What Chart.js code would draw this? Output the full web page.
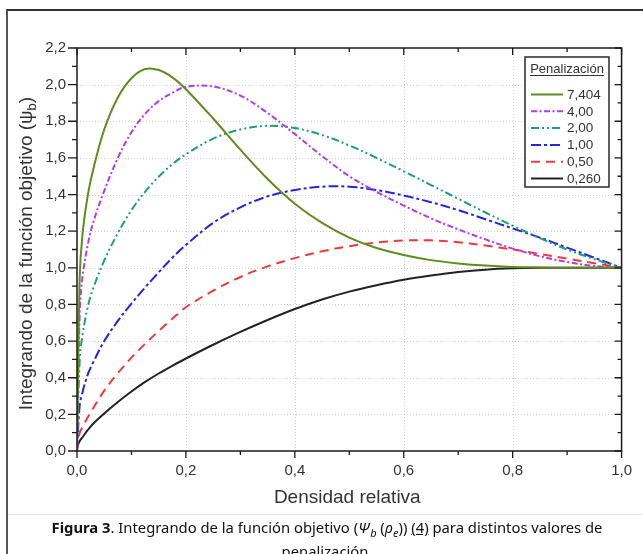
<!DOCTYPE html>
<html><head><meta charset="utf-8">
<script src="https://cdn.jsdelivr.net/npm/chart.js@4"></script>
<style>
html,body{margin:0;padding:0;background:#fff;}
#wrap{position:relative;width:643px;height:554px;overflow:hidden;background:#fff;}
#frame{position:absolute;left:6px;top:9px;width:720px;height:620px;border-left:2px solid #555;border-top:2px solid #333;box-sizing:border-box;}
#sep{position:absolute;left:8px;top:514px;width:640px;height:1px;background:#e6e6e6;}
canvas{position:absolute;left:0;top:0;}
#cap{position:absolute;left:6px;width:642px;top:518px;text-align:center;font-family:"Noto Sans";font-size:14.8px;line-height:18px;color:#111;white-space:nowrap;}
#cap .u{text-decoration:underline;}
</style></head>
<body>
<div id="wrap">
<div id="frame"></div>
<div id="sep"></div>
<canvas id="c" width="643" height="554"></canvas>
<div id="cap"><b>Figura 3</b>. Integrando de la función objetivo (<i>Ψ<sub style="font-size:11px">b</sub></i> (<i>ρ<sub style="font-size:11px">e</sub></i>)) <span class="u">(4)</span> para distintos valores de<br>penalización.</div>
</div>
<script>
// ---- data ----
const densidad = [0, 0.005, 0.01, 0.02, 0.03, 0.05, 0.075, 0.1, 0.125, 0.15, 0.175, 0.2, 0.25, 0.3, 0.35, 0.4, 0.45, 0.5, 0.55, 0.6, 0.65, 0.7, 0.75, 0.8, 0.85, 0.9, 0.95, 1.0];
const pen7404 = [0, 0.95, 1.18, 1.40, 1.54, 1.755, 1.93, 2.035, 2.085, 2.08, 2.04, 1.975, 1.815, 1.645, 1.485, 1.35, 1.245, 1.165, 1.108, 1.07, 1.042, 1.024, 1.012, 1.005, 1.002, 1.0, 1.0, 1.0];
const pen400 = [0, 0.75, 0.95, 1.13, 1.25, 1.42, 1.60, 1.74, 1.84, 1.91, 1.955, 1.988, 1.99, 1.94, 1.845, 1.73, 1.61, 1.50, 1.415, 1.34, 1.27, 1.21, 1.155, 1.105, 1.063, 1.032, 1.01, 1.0];
const pen200 = [0, 0.50, 0.63, 0.79, 0.89, 1.04, 1.19, 1.315, 1.415, 1.497, 1.565, 1.62, 1.705, 1.755, 1.775, 1.763, 1.725, 1.668, 1.60, 1.527, 1.452, 1.377, 1.302, 1.23, 1.162, 1.10, 1.047, 1.0];
const pen100 = [0, 0.25, 0.32, 0.42, 0.485, 0.60, 0.71, 0.805, 0.893, 0.975, 1.055, 1.125, 1.245, 1.33, 1.39, 1.425, 1.443, 1.443, 1.425, 1.395, 1.358, 1.315, 1.265, 1.215, 1.165, 1.11, 1.055, 1.0];
const pen050 = [0, 0.10, 0.13, 0.185, 0.235, 0.33, 0.425, 0.51, 0.585, 0.655, 0.722, 0.785, 0.875, 0.95, 1.008, 1.053, 1.09, 1.118, 1.138, 1.149, 1.15, 1.14, 1.122, 1.10, 1.075, 1.05, 1.025, 1.0];
const pen0260 = [0.02, 0.055, 0.075, 0.115, 0.15, 0.205, 0.268, 0.325, 0.377, 0.423, 0.465, 0.505, 0.58, 0.65, 0.715, 0.775, 0.827, 0.87, 0.905, 0.935, 0.958, 0.977, 0.99, 0.997, 1.0, 1.0, 1.0, 1.0];
const seriesLabels = ['7,404', '4,00', '2,00', '1,00', '0,50', '0,260'];
const xTicks = [0, 0.2, 0.4, 0.6, 0.8, 1.0];
const yTicks = [0, 0.2, 0.4, 0.6, 0.8, 1.0, 1.2, 1.4, 1.6, 1.8, 2.0, 2.2];
const xTitle = 'Densidad relativa';
const yTitle = 'Integrando de la función objetivo (ψ';
const yTitleSub = 'b';
const legendTitle = 'Penalización';

// ---- styles ----
const allSeries = [pen7404, pen400, pen200, pen100, pen050, pen0260];
const colors = ['#5f8c1e', '#b03cf2', '#1f9e72', '#2424e8', '#f03a3a', '#222222'];
const dashes = [[], [6, 2.5, 2, 2.5], [8, 3, 2, 3, 2, 3], [10, 3, 3, 3], [9, 6], []];
const fam = '"Liberation Sans", Arial, sans-serif';
const fmt = v => Number(v).toFixed(1).replace('.', ',');

const datasets = allSeries.map((vals, i) => ({
  label: seriesLabels[i],
  data: densidad.map((x, k) => ({x: x, y: vals[k]})),
  borderColor: colors[i],
  borderDash: dashes[i],
  borderWidth: 2,
  pointRadius: 0,
  fill: false,
  tension: 0.35
}));

const deco = {
  id: 'deco',
  beforeDatasetsDraw(chart) {
    const ctx = chart.ctx, xs = chart.scales.x, ys = chart.scales.y, a = chart.chartArea;
    ctx.save();
    ctx.strokeStyle = '#cfcfcf'; ctx.lineWidth = 1; ctx.setLineDash([1, 2]);
    xTicks.forEach(v => { if (v <= 0 || v >= 1) return; const p = Math.round(xs.getPixelForValue(v)) + 0.5; ctx.beginPath(); ctx.moveTo(p, a.top); ctx.lineTo(p, a.bottom); ctx.stroke(); });
    yTicks.forEach(v => { if (v <= 0 || v >= 2.2) return; const p = Math.round(ys.getPixelForValue(v)) + 0.5; ctx.beginPath(); ctx.moveTo(a.left, p); ctx.lineTo(a.right, p); ctx.stroke(); });
    ctx.restore();
  },
  afterDatasetsDraw(chart) {
    const ctx = chart.ctx, xs = chart.scales.x, ys = chart.scales.y, a = chart.chartArea;
    ctx.save();
    ctx.setLineDash([]);
    ctx.strokeStyle = '#1a1a1a'; ctx.lineWidth = 1.5;
    ctx.strokeRect(a.left, a.top, a.right - a.left, a.bottom - a.top);
    ctx.lineWidth = 1.3;
    for (let k = 0; k <= 10; k++) {
      const v = k / 10, p = xs.getPixelForValue(v), major = k % 2 === 0;
      ctx.beginPath();
      ctx.moveTo(p, a.bottom); ctx.lineTo(p, a.bottom + (major ? 7 : 4));
      ctx.moveTo(p, a.top); ctx.lineTo(p, a.top + (major ? 7 : 4));
      ctx.stroke();
    }
    for (let k = 0; k <= 22; k++) {
      const v = k / 10, p = ys.getPixelForValue(v), major = k % 2 === 0;
      ctx.beginPath();
      ctx.moveTo(a.left, p); ctx.lineTo(a.left - (major ? 9 : 5), p);
      ctx.moveTo(a.right, p); ctx.lineTo(a.right - (major ? 7 : 4), p);
      ctx.stroke();
    }
    // legend
    const L = {x: 525, y: 57, w: 84, h: 130};
    ctx.fillStyle = '#fff'; ctx.fillRect(L.x, L.y, L.w, L.h);
    ctx.strokeStyle = '#2a2a2a'; ctx.lineWidth = 1.5; ctx.strokeRect(L.x, L.y, L.w, L.h);
    ctx.fillStyle = '#333'; ctx.font = '13px ' + fam; ctx.textBaseline = 'middle'; ctx.textAlign = 'left';
    const tw = ctx.measureText(legendTitle).width;
    const tx = L.x + L.w / 2 - tw / 2;
    ctx.fillText(legendTitle, tx, 69);
    ctx.lineWidth = 1; ctx.strokeStyle = '#333';
    ctx.beginPath(); ctx.moveTo(tx, 75.5); ctx.lineTo(tx + tw, 75.5); ctx.stroke();
    chart.data.datasets.forEach((ds, i) => {
      const y = 94.5 + i * 16.8;
      ctx.save();
      ctx.strokeStyle = ds.borderColor; ctx.lineWidth = 2; ctx.setLineDash(ds.borderDash || []);
      ctx.beginPath(); ctx.moveTo(531, y); ctx.lineTo(563, y); ctx.stroke();
      ctx.restore();
      ctx.fillStyle = '#333'; ctx.font = '13.5px ' + fam;
      ctx.fillText(ds.label, 567, y + 0.5);
    });
    // axis titles
    ctx.fillStyle = '#333'; ctx.textBaseline = 'alphabetic';
    ctx.font = '19px ' + fam; ctx.textAlign = 'center';
    ctx.fillText(xTitle, (a.left + a.right) / 2 - 2, 503);
    ctx.save();
    ctx.translate(31.5, 253.5); ctx.rotate(-Math.PI / 2);
    ctx.textAlign = 'left';
    ctx.font = '19px ' + fam; const w1 = ctx.measureText(yTitle).width; const w3 = ctx.measureText(')').width;
    ctx.font = '13px ' + fam; const w2 = ctx.measureText(yTitleSub).width;
    let x = -(w1 + w2 + w3) / 2;
    ctx.font = '19px ' + fam; ctx.fillText(yTitle, x, 0); x += w1;
    ctx.font = '13px ' + fam; ctx.fillText(yTitleSub, x, 4); x += w2;
    ctx.font = '19px ' + fam; ctx.fillText(')', x, 0);
    ctx.restore();
    ctx.restore();
  }
};

new Chart(document.getElementById('c'), {
  type: 'line',
  data: {datasets: datasets},
  options: {
    responsive: false, animation: false, devicePixelRatio: 1,
    layout: {padding: {left: 0, top: 48, right: 11, bottom: 0}},
    plugins: {legend: {display: false}, tooltip: {enabled: false}},
    scales: {
      x: {
        type: 'linear', min: 0, max: 1,
        afterFit: s => { s.height = 103; },
        afterBuildTicks: s => { s.ticks = xTicks.map(v => ({value: v})); },
        grid: {display: false, drawTicks: false}, border: {display: false},
        ticks: {padding: 11, color: '#333', font: {family: fam, size: 15}, callback: v => fmt(v), maxRotation: 0}
      },
      y: {
        type: 'linear', min: 0, max: 2.2,
        afterFit: s => { s.width = 77; },
        afterBuildTicks: s => { s.ticks = yTicks.map(v => ({value: v})); },
        grid: {display: false, drawTicks: false}, border: {display: false},
        ticks: {padding: 11, color: '#333', font: {family: fam, size: 15}, callback: v => fmt(v)}
      }
    }
  },
  plugins: [deco]
});
</script>
</body></html>
